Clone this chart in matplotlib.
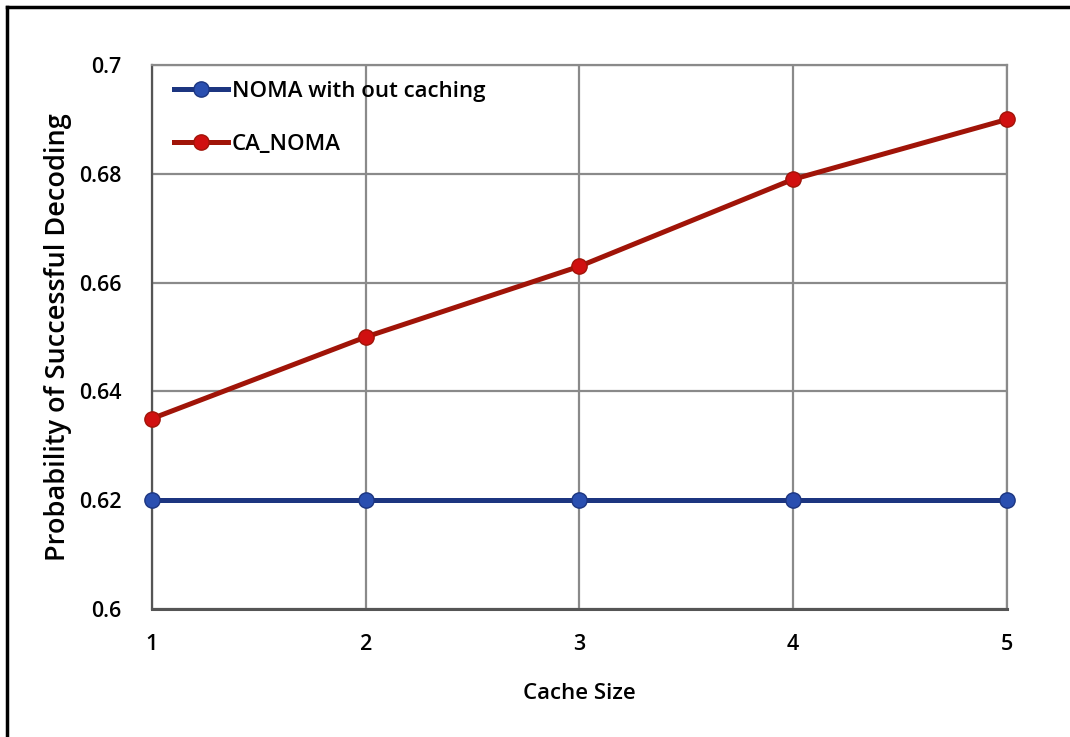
import matplotlib
matplotlib.use("Agg")
import matplotlib.pyplot as plt
from matplotlib.lines import Line2D

cache_size = [1, 2, 3, 4, 5]
noma_sem_cache = [0.62, 0.62, 0.62, 0.62, 0.62]
ca_noma = [0.635, 0.65, 0.663, 0.679, 0.69]
rotulos = ["NOMA with out caching", "CA_NOMA"]

plt.rcParams["font.family"] = ["Open Sans", "DejaVu Sans"]
plt.rcParams["font.weight"] = "semibold"
plt.rcParams["axes.labelweight"] = "semibold"

fig = plt.figure(figsize=(10.7, 7.37), dpi=100)
eixo = fig.add_axes([0.142, 0.1737, 0.799, 0.738])

l1, = eixo.plot(cache_size, noma_sem_cache, color="#1c3580", lw=3.6, marker="o",
                markersize=11, markerfacecolor="#2a4fb0", markeredgecolor="#1c3580",
                label=rotulos[0], clip_on=False, zorder=3)
l2, = eixo.plot(cache_size, ca_noma, color="#a01408", lw=3.6, marker="o",
                markersize=11, markerfacecolor="#d01010", markeredgecolor="#a01408",
                label=rotulos[1], clip_on=False, zorder=3)

eixo.set_xlim(1, 5)
eixo.set_ylim(0.6, 0.7)
eixo.set_xticks(cache_size)
eixo.set_yticks([0.6, 0.62, 0.64, 0.66, 0.68, 0.7])
eixo.set_yticklabels(["0.6", "0.62", "0.64", "0.66", "0.68", "0.7"])
eixo.grid(True, color="#8a8a8a", lw=1.6)
eixo.set_axisbelow(True)
for lado in eixo.spines.values():
    lado.set_color("#8a8a8a")
    lado.set_linewidth(1.6)
eixo.spines["bottom"].set_color("#555555")
eixo.spines["bottom"].set_linewidth(2.2)
eixo.spines["left"].set_color("#555555")
eixo.tick_params(length=0, labelsize=15.5, pad=22)
eixo.tick_params(axis="x", pad=18)

eixo.set_xlabel("Cache Size", fontsize=16, labelpad=20)
eixo.set_ylabel("Probability of Successful Decoding", fontsize=19.5, labelpad=5)

eixo.legend(handles=[l1, l2], loc="upper left", frameon=False, fontsize=16,
            handlelength=2.4, handletextpad=0.2, labelspacing=1.45,
            borderaxespad=0.3, bbox_to_anchor=(0.008, 1.0))

# moldura da figura (apenas topo e esquerda visíveis)
fig.add_artist(Line2D([7 / 1070, 1.0], [1 - 7 / 737, 1 - 7 / 737],
                      transform=fig.transFigure, color="black", lw=2.5))
fig.add_artist(Line2D([7 / 1070, 7 / 1070], [0.0, 1 - 7 / 737],
                      transform=fig.transFigure, color="black", lw=2.5))

fig.savefig("out.png", dpi=100)
